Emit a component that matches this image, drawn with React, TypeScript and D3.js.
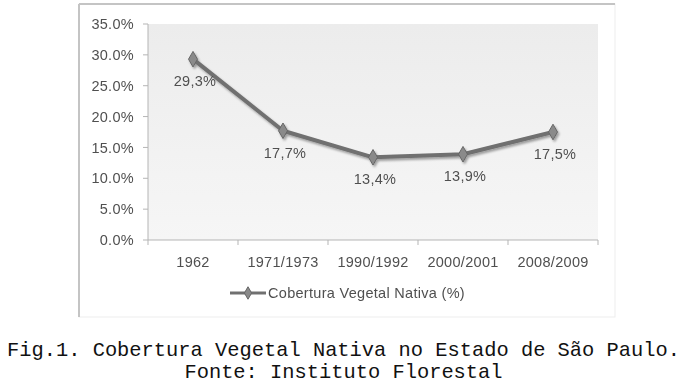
import React from "react";
import * as d3 from "d3";

// dados (Instituto Florestal)
const periods = ["1962", "1971/1973", "1990/1992", "2000/2001", "2008/2009"];
const coverage = [29.3, 17.7, 13.4, 13.9, 17.5];
const yTicks = [0, 5, 10, 15, 20, 25, 30, 35];
const seriesName = "Cobertura Vegetal Nativa (%)";
const captionLines = [
  "Fig.1. Cobertura Vegetal Nativa no Estado de São Paulo.",
  "Fonte: Instituto Florestal",
];

const W = 687;
const H = 385;
const plot = { left: 148, right: 598, top: 24, bottom: 240 };
const chartFont = "'Liberation Sans', Arial, sans-serif";
const textColor = "#505050";
const fs = 14.5;
const ls = 0.3;

export default function App() {
  const x = d3.scaleBand().domain(periods).range([plot.left, plot.right]);
  const y = d3.scaleLinear().domain([0, 35]).range([plot.bottom, plot.top]);

  const pts = coverage.map((v, i) => [x(periods[i])! + x.bandwidth() / 2, y(v)] as [number, number]);
  const line = d3.line()(pts) ?? "";
  const diamond = d3.symbol(d3.symbolDiamond, 70)() ?? "";
  const fmt = (v: number) => v.toFixed(1).replace(".", ",") + "%";
  const bounds = [...periods.map((p) => x(p)!), plot.right];

  return (
    <svg
      width={W}
      height={H}
      style={{ position: "absolute", left: 0, top: 0, background: "#fff" }}
    >
      <defs>
        <linearGradient id="bg" x1="0" y1="0" x2="0" y2="1">
          <stop offset="0" stopColor="#ececec" />
          <stop offset="1" stopColor="#f6f6f6" />
        </linearGradient>
        <filter id="sh" x="-10%" y="-20%" width="120%" height="140%">
          <feDropShadow dx="1.5" dy="2" stdDeviation="1.3" floodColor="#000" floodOpacity="0.35" />
        </filter>
        <filter id="blur">
          <feGaussianBlur stdDeviation="0.4" />
        </filter>
      </defs>

      {/* moldura do gráfico */}
      <rect x={79} y={4} width={536} height={313} fill="#fff" stroke="#ededed" />
      <line x1={79} y1={4} x2={615} y2={4} stroke="#c4c4c4" strokeWidth={2} />
      <line x1={79} y1={4} x2={79} y2={317} stroke="#c4c4c4" strokeWidth={2} />

      <rect
        x={plot.left}
        y={plot.top}
        width={plot.right - plot.left}
        height={plot.bottom - plot.top}
        fill="url(#bg)"
      />

      <g filter="url(#blur)" fontFamily={chartFont} fontSize={fs} letterSpacing={ls} fill={textColor}>
        {/* eixo y */}
        <line x1={plot.left} x2={plot.left} y1={plot.top} y2={plot.bottom} stroke="#b5b5b5" />
        {yTicks.map((t) => (
          <g key={t}>
            <line x1={plot.left - 5} x2={plot.left} y1={y(t)} y2={y(t)} stroke="#b5b5b5" />
            <text x={plot.left - 14} y={y(t)} dy="0.35em" textAnchor="end">
              {t.toFixed(1) + "%"}
            </text>
          </g>
        ))}

        {/* eixo x */}
        <line x1={plot.left} x2={plot.right} y1={plot.bottom} y2={plot.bottom} stroke="#b5b5b5" />
        {bounds.map((b, i) => (
          <line key={i} x1={b} x2={b} y1={plot.bottom} y2={plot.bottom + 5} stroke="#b5b5b5" />
        ))}
        {periods.map((p) => (
          <text key={p} x={x(p)! + x.bandwidth() / 2} y={267} textAnchor="middle">
            {p}
          </text>
        ))}

        {/* série */}
        <g filter="url(#sh)">
          <path d={line} fill="none" stroke="#707070" strokeWidth={4} strokeLinejoin="round" />
          {pts.map(([px, py], i) => (
            <path key={i} d={diamond} transform={`translate(${px},${py})`} fill="#8a8a8a" stroke="#666" />
          ))}
        </g>
        {pts.map(([px, py], i) => (
          <text key={i} x={px + 2} y={py + 27} textAnchor="middle">
            {fmt(coverage[i])}
          </text>
        ))}

        {/* legenda */}
        <line x1={230} x2={266} y1={293} y2={293} stroke="#707070" strokeWidth={3} />
        <path d={d3.symbol(d3.symbolDiamond, 45)() ?? ""} transform="translate(248,293)" fill="#8a8a8a" stroke="#666" />
        <text x={268} y={293} dy="0.35em">
          {seriesName}
        </text>
      </g>

      {/* legenda da figura */}
      {captionLines.map((c, i) => (
        <text
          key={i}
          x={W / 2}
          y={356 + i * 22}
          textAnchor="middle"
          fontFamily="'Liberation Mono', 'Courier New', monospace"
          fontSize={20.4}
          fill="#111"
        >
          {c}
        </text>
      ))}
    </svg>
  );
}
